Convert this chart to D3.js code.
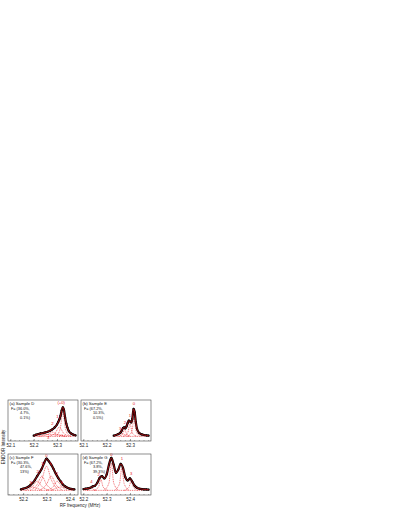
<!DOCTYPE html>
<html>
<head>
<meta charset="utf-8">
<script src="https://cdn.jsdelivr.net/npm/d3@7"></script>
<style>
body{margin:0;background:#fff;}
svg{display:block;font-family:"Liberation Sans",Arial,sans-serif;}
</style>
</head>
<body>
<svg id="chart" width="395" height="511"></svg>
<script>
// panel titles and F fractions
var titles=["(a) Sample D","(b) Sample E","(c) Sample F","(d) Sample G"];
var fracs=[["F= (36.0%,","4.7%,","0.1%)"],["F= (67.2%,","10.3%,","0.5%)"],["F= (30.3%,","47.6%,","13%)"],["F= (67.2%,","3.8%,","39.3%)"]];
var xDomains=[[52.09,52.39],[52.09,52.39],[52.135,52.435],[52.19,52.49]];
var tickVals=[[52.1,52.2,52.3],[52.1,52.2,52.3],[52.2,52.3,52.4],[52.2,52.3,52.4]];

// measured ENDOR signal
var freqD=[52.20,52.21,52.22,52.23,52.24,52.25,52.26,52.27,52.28,52.29,52.30,52.305,52.31,52.315,52.32,52.325,52.33,52.335,52.34,52.345,52.35,52.36,52.37,52.38];
var sigD =[0.04,0.07,0.09,0.11,0.12,0.14,0.16,0.19,0.23,0.29,0.38,0.45,0.53,0.64,0.80,0.90,0.82,0.58,0.40,0.28,0.19,0.11,0.07,0.05];
var freqE=[52.23,52.24,52.25,52.26,52.265,52.27,52.275,52.28,52.285,52.29,52.295,52.30,52.305,52.31,52.315,52.32,52.325,52.33,52.34,52.35,52.36,52.37,52.38];
var sigE =[0.04,0.06,0.09,0.14,0.20,0.27,0.29,0.26,0.32,0.42,0.50,0.47,0.44,0.55,0.85,0.75,0.45,0.25,0.12,0.08,0.06,0.05,0.04];
var freqF=[52.19,52.20,52.21,52.22,52.23,52.24,52.25,52.26,52.27,52.28,52.29,52.30,52.31,52.32,52.33,52.34,52.35,52.36,52.37,52.38,52.39,52.40,52.41,52.42];
var sigF =[0.05,0.07,0.09,0.12,0.17,0.24,0.33,0.45,0.56,0.68,0.85,0.98,0.90,0.80,0.67,0.52,0.40,0.30,0.20,0.14,0.10,0.07,0.06,0.05];
var freqG=[52.20,52.21,52.22,52.23,52.24,52.25,52.26,52.27,52.28,52.29,52.30,52.31,52.32,52.33,52.34,52.35,52.36,52.37,52.38,52.39,52.40,52.41,52.42,52.43,52.44,52.45,52.46,52.47,52.48];
var sigG =[0.06,0.07,0.08,0.10,0.14,0.16,0.25,0.40,0.45,0.38,0.50,0.80,1.00,0.80,0.55,0.65,0.82,0.70,0.42,0.32,0.38,0.28,0.16,0.10,0.07,0.06,0.05,0.05,0.04];

// fitted components (dashed red)
var compsD=[
 [[52.29,0.03],[52.305,0.10],[52.315,0.30],[52.325,0.78],[52.335,0.30],[52.345,0.10],[52.36,0.03]],
 [[52.26,0.02],[52.29,0.10],[52.31,0.30],[52.33,0.10],[52.36,0.02]],
 [[52.22,0.02],[52.26,0.08],[52.28,0.15],[52.30,0.08],[52.34,0.02]],
 [[52.20,0.03],[52.27,0.08],[52.34,0.03]],
 [[52.31,0.01],[52.32,0.07],[52.33,0.01]]];
var compsE=[
 [[52.29,0.03],[52.305,0.12],[52.312,0.35],[52.317,0.80],[52.322,0.35],[52.33,0.12],[52.345,0.03]],
 [[52.27,0.02],[52.29,0.12],[52.30,0.40],[52.31,0.12],[52.33,0.02]],
 [[52.25,0.02],[52.268,0.09],[52.277,0.22],[52.286,0.09],[52.30,0.02]],
 [[52.23,0.02],[52.26,0.10],[52.29,0.02]]];
var compsF=[
 [[52.25,0.03],[52.28,0.35],[52.30,0.75],[52.32,0.35],[52.35,0.03]],
 [[52.23,0.02],[52.26,0.20],[52.28,0.45],[52.30,0.20],[52.33,0.02]],
 [[52.27,0.02],[52.30,0.20],[52.32,0.45],[52.34,0.20],[52.37,0.02]],
 [[52.21,0.02],[52.24,0.14],[52.26,0.30],[52.28,0.14],[52.31,0.02]],
 [[52.30,0.02],[52.33,0.14],[52.345,0.30],[52.365,0.14],[52.39,0.02]],
 [[52.19,0.02],[52.235,0.12],[52.28,0.02]],
 [[52.32,0.02],[52.365,0.12],[52.41,0.02]]];
var compsG=[
 [[52.29,0.03],[52.31,0.25],[52.32,0.85],[52.33,0.25],[52.35,0.03]],
 [[52.335,0.03],[52.355,0.22],[52.365,0.70],[52.375,0.22],[52.395,0.03]],
 [[52.245,0.02],[52.265,0.12],[52.275,0.35],[52.285,0.12],[52.305,0.02]],
 [[52.375,0.02],[52.395,0.11],[52.405,0.30],[52.415,0.11],[52.435,0.02]],
 [[52.215,0.02],[52.23,0.06],[52.235,0.12],[52.24,0.06],[52.255,0.02]]];

// red peak labels
var labelsD=[["(+0)",52.318,1.00],["1",52.302,0.58],["2",52.28,0.36],["3",52.262,-0.07]];
var labelsE=[["0",52.317,0.97],["1",52.30,0.60],["2",52.278,0.40],["3",52.258,0.22]];
var labelsF=[["0",52.30,1.04],["1",52.283,0.78],["1",52.318,0.78],["2",52.262,0.55],["2",52.345,0.48],["3",52.232,0.22],["3",52.365,0.20]];
var labelsG=[["0",52.32,1.07],["1",52.365,0.93],["2",52.266,0.44],["3",52.405,0.50],["4",52.235,0.24]];

var freqs=[freqD,freqE,freqF,freqG];
var sigs=[sigD,sigE,sigF,sigG];
var comps=[compsD,compsE,compsF,compsG];
var labels=[labelsD,labelsE,labelsF,labelsG];

var svg=d3.select("#chart");
var pos=[[8,400],[81,400],[8,454],[81,454]];
var pw=70, ph=41;
var red="#e8141b";

for(var i=0;i<4;i++){
  var g=svg.append("g").attr("transform","translate("+pos[i][0]+","+pos[i][1]+")");
  var x=d3.scaleLinear().domain(xDomains[i]).range([0,pw]);
  var y=d3.scaleLinear().domain([-0.12,1.12]).range([ph,0]);
  var line=d3.line().x(function(d){return x(d[0]);}).y(function(d){return y(d[1]);}).curve(d3.curveMonotoneX);

  // components
  comps[i].forEach(function(c){
    g.append("path").attr("d",line(c)).attr("fill","none")
     .attr("stroke",red).attr("stroke-width",0.6).attr("stroke-dasharray","1,0.8");
  });
  var f=freqs[i];
  g.append("path").attr("d",line([[f[0],0.02],[f[f.length-1],0.02]]))
   .attr("fill","none").attr("stroke",red).attr("stroke-width",0.6).attr("stroke-dasharray","1,0.8");

  var pts=freqs[i].map(function(v,k){return [v,sigs[i][k]];});
  g.append("path").attr("d",line(pts)).attr("fill","none").attr("stroke","#000").attr("stroke-width",2.2);
  g.selectAll(".dot").data(pts).enter().append("circle")
   .attr("cx",function(d){return x(d[0]);}).attr("cy",function(d){return y(d[1]);})
   .attr("r",1.1).attr("fill","#000");
  g.append("path").attr("d",line(pts)).attr("fill","none").attr("stroke",red).attr("stroke-width",0.7);

  labels[i].forEach(function(l){
    g.append("text").attr("x",x(l[1])).attr("y",y(l[2])).attr("text-anchor","middle")
     .attr("font-size",4.2).attr("fill",red).text(l[0]);
  });

  // frame and axes
  g.append("rect").attr("width",pw).attr("height",ph).attr("fill","none").attr("stroke","#444").attr("stroke-width",0.6);
  var minor=d3.range(Math.ceil(xDomains[i][0]*50)/50,xDomains[i][1],0.02);
  g.selectAll(".mt").data(minor).enter().append("line")
   .attr("x1",function(d){return x(d);}).attr("x2",function(d){return x(d);})
   .attr("y1",ph).attr("y2",ph-1).attr("stroke","#444").attr("stroke-width",0.4);
  var ax=d3.axisBottom(x).tickValues(tickVals[i]).tickSize(-2).tickPadding(3).tickFormat(d3.format(".1f"));
  var axg=g.append("g").attr("transform","translate(0,"+ph+")").call(ax);
  axg.select(".domain").remove();
  axg.selectAll("line").attr("stroke","#444").attr("stroke-width",0.5);
  axg.selectAll("text").attr("font-size",4.5).attr("fill","#222").attr("font-family","Liberation Sans, Arial, sans-serif");

  g.append("text").attr("x",1.5).attr("y",4.5).attr("font-size",4.2).attr("fill","#111").text(titles[i]);
  fracs[i].forEach(function(t,k){
    g.append("text").attr("x",k==0?3:12).attr("y",9.5+k*4.5).attr("font-size",3.8).attr("fill","#111").text(t);
  });
}

svg.append("text").attr("x",80).attr("y",507).attr("text-anchor","middle").attr("font-size",4.5).attr("fill","#222").text("RF frequency (MHz)");
svg.append("text").attr("transform","translate(5,447) rotate(-90)").attr("text-anchor","middle").attr("font-size",4.5).attr("fill","#222").text("ENDOR Intensity");
</script>
</body>
</html>
